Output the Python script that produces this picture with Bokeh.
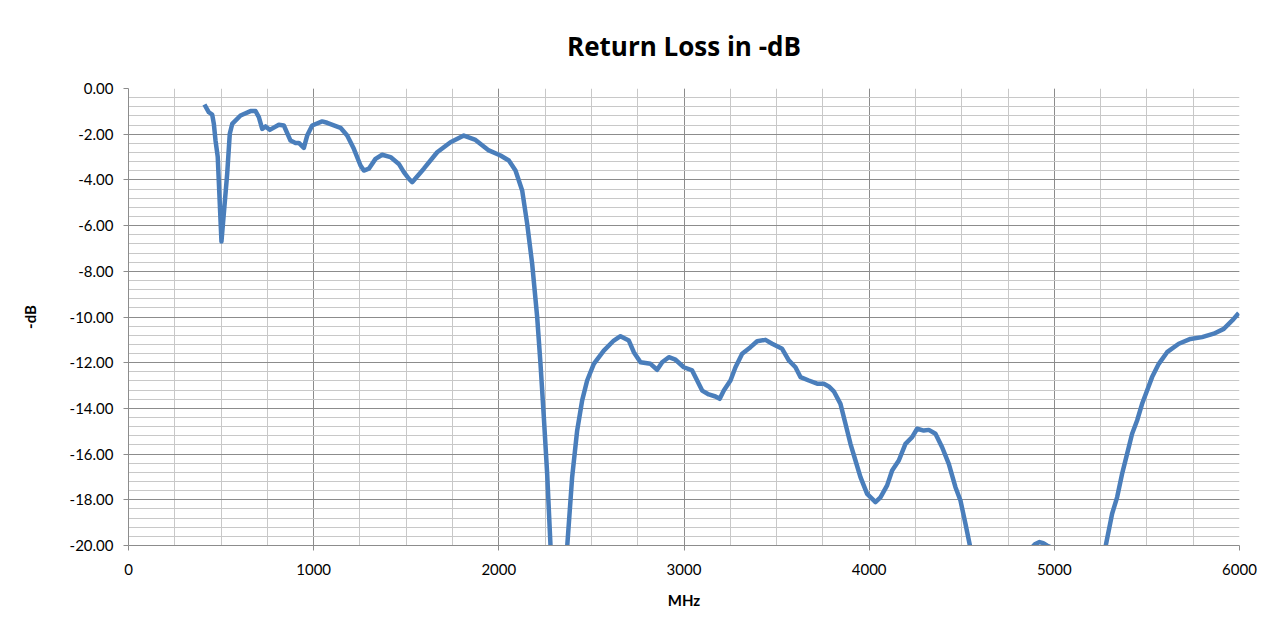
from bokeh.plotting import figure
from bokeh.models import Range1d, FixedTicker, NumeralTickFormatter
from bokeh.embed import file_html
from bokeh.resources import INLINE

freq_mhz = [410, 434, 452, 461, 470, 482, 502, 533, 547, 560, 605, 659, 686, 704, 722, 740,
            763, 812, 839, 875, 902, 920, 947, 965, 992, 1046, 1073, 1145, 1181, 1217, 1253,
            1271, 1298, 1334, 1370, 1415, 1460, 1487, 1514, 1532, 1595, 1667, 1739, 1811,
            1874, 1946, 2009, 2054, 2090, 2126, 2153, 2180, 2207, 2225, 2243, 2261, 2279,
            2300, 2350, 2369, 2396, 2423, 2450, 2477, 2513, 2567, 2621, 2657, 2702, 2729,
            2765, 2819, 2855, 2882, 2918, 2954, 2999, 3044, 3071, 3098, 3134, 3170, 3193,
            3215, 3251, 3278, 3314, 3359, 3395, 3440, 3476, 3530, 3566, 3602, 3629, 3674,
            3719, 3755, 3782, 3809, 3845, 3872, 3899, 3926, 3953, 3989, 4034, 4061, 4097,
            4124, 4160, 4196, 4232, 4259, 4295, 4322, 4358, 4394, 4430, 4466, 4493, 4520,
            4544, 4580, 4850, 4872, 4895, 4920, 4940, 4960, 4988, 5010, 5250, 5276, 5312,
            5339, 5366, 5393, 5420, 5447, 5474, 5501, 5528, 5564, 5609, 5672, 5735, 5798,
            5861, 5915, 5961, 5996]
return_loss_db = [-0.70, -1.04, -1.14, -1.55, -2.28, -3.00, -6.70, -3.73, -1.98, -1.55, -1.18,
                  -0.99, -0.99, -1.25, -1.77, -1.66, -1.81, -1.59, -1.62, -2.28, -2.39, -2.38,
                  -2.60, -2.06, -1.62, -1.44, -1.50, -1.72, -2.06, -2.64, -3.37, -3.59, -3.51,
                  -3.08, -2.90, -3.00, -3.30, -3.66, -3.95, -4.10, -3.51, -2.79, -2.35, -2.06,
                  -2.25, -2.71, -2.93, -3.15, -3.59, -4.46, -5.92, -7.67, -10.00, -12.05,
                  -14.38, -16.86, -20.00, -23.00, -23.00, -20.07, -17.00, -14.97, -13.65,
                  -12.78, -12.05, -11.47, -11.03, -10.84, -11.03, -11.54, -11.98, -12.05,
                  -12.31, -11.98, -11.76, -11.87, -12.20, -12.34, -12.78, -13.22, -13.39,
                  -13.48, -13.58, -13.22, -12.78, -12.20, -11.61, -11.32, -11.06, -11.00,
                  -11.17, -11.39, -11.90, -12.20, -12.63, -12.78, -12.92, -12.92, -13.04,
                  -13.25, -13.80, -14.67, -15.55, -16.28, -17.01, -17.74, -18.10, -17.89,
                  -17.37, -16.72, -16.28, -15.55, -15.26, -14.89, -14.97, -14.94, -15.11,
                  -15.70, -16.43, -17.45, -18.03, -19.05, -20.00, -22.00, -22.00, -20.15,
                  -19.95, -19.85, -19.90, -20.00, -20.10, -22.00, -22.00, -20.07, -18.61,
                  -17.89, -16.86, -15.99, -15.11, -14.53, -13.80, -13.22, -12.63, -12.05,
                  -11.54, -11.17, -10.96, -10.88, -10.73, -10.52, -10.15, -9.83]

x_ticks = [0, 1000, 2000, 3000, 4000, 5000, 6000]
x_minor = [250 * i for i in range(25)]
y_ticks = [-20, -18, -16, -14, -12, -10, -8, -6, -4, -2, 0]
y_minor = [round(-0.4 * i, 1) for i in range(51)]

FONT = "Lato"
MAJOR = "#8c8c8c"
MINOR = "#c8c8c8"

p = figure(width=1267, height=628, output_backend="svg", toolbar_location=None,
           x_range=Range1d(0, 6000), y_range=Range1d(-20, 0),
           title="Return Loss in -dB",
           min_border_left=128, min_border_right=28, min_border_top=88, min_border_bottom=83)
p.outline_line_color = None
p.background_fill_color = "white"
p.border_fill_color = "white"

p.title.align = "center"
p.title.text_font = "Open Sans"
p.title.text_font_size = "26px"
p.title.text_font_style = "bold"
p.title.text_color = "black"
p.title.standoff = 49

p.xaxis.ticker = FixedTicker(ticks=x_ticks, minor_ticks=x_minor)
p.yaxis.ticker = FixedTicker(ticks=y_ticks, minor_ticks=y_minor)
p.yaxis.formatter = NumeralTickFormatter(format="0.00")

for ax in (p.xaxis, p.yaxis):
    ax.axis_line_color = MAJOR
    ax.major_tick_line_color = MAJOR
    ax.major_tick_out = 5
    ax.major_tick_in = 0
    ax.minor_tick_line_color = None
    ax.major_label_text_font = FONT
    ax.major_label_text_font_size = "15px"
    ax.major_label_text_color = "black"
    ax.axis_label_text_font = FONT
    ax.axis_label_text_font_size = "15px"
    ax.axis_label_text_font_style = "bold"
    ax.axis_label_text_color = "black"

p.xaxis.axis_label = "MHz"
p.yaxis.axis_label = "-dB"
p.xaxis.major_label_standoff = 13
p.yaxis.major_label_standoff = 10
p.xaxis.axis_label_standoff = 13
p.yaxis.axis_label_standoff = 28

for g in (p.xgrid, p.ygrid):
    g.grid_line_color = MAJOR
    g.grid_line_width = 1
    g.minor_grid_line_color = MINOR
    g.minor_grid_line_width = 1

p.line(freq_mhz, return_loss_db, line_color="#4a7ebb", line_width=4.5, line_join="round")

open("out.html", "w").write(file_html(p, INLINE))
